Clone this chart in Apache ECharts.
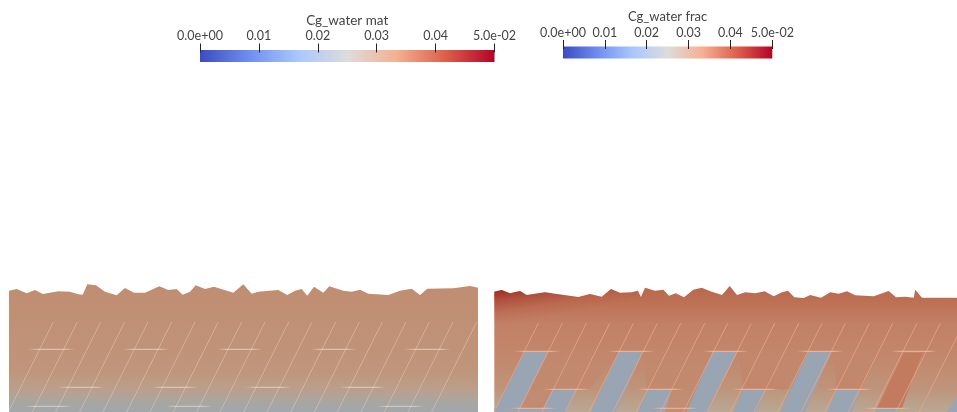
<!DOCTYPE html>
<html><head><meta charset="utf-8">
<style>html,body{margin:0;padding:0;background:#fff}#c{width:957px;height:412px}#c canvas{filter:blur(0.35px)}</style>
<script src="https://cdn.jsdelivr.net/npm/echarts@6/dist/echarts.min.js"></script></head>
<body><div id="c"></div>
<script>
// Colour scale
const tickValues = [0, 0.01, 0.02, 0.03, 0.04, 0.05];
const tickLabels = ['0.0e+00', '0.01', '0.02', '0.03', '0.04', '5.0e-02'];
const titleMat = 'Cg_water mat';
const titleFrac = 'Cg_water frac';
const coolWarm = ['#3b4cc0', '#6f8ef0', '#aac7fd', '#dddcdc', '#f5b092', '#dc5f4b', '#b40426'];

// Terrain top profiles
const surfaceMat = [[9,290.7],[16.7,289],[26.7,293.3],[35,290],[42.7,294],[58.3,291.3],[70,291.7],[78.3,294.3],[82.7,294.7],[87.3,284.3],[96,285.3],[105,291.7],[116.7,295.3],[125,288],[134,292.7],[145,292.7],[159.3,286.3],[168.3,290],[176.7,289],[182.7,294.7],[190,291.7],[195.7,285.3],[205,289],[214,286.7],[233.3,292.7],[243.3,284.3],[251.7,293.7],[258.3,291.7],[278.3,290],[287.3,295],[295,290.7],[301.7,289],[307.3,295.7],[314,286.7],[323.3,292.7],[329.3,286.3],[343.3,290.7],[351.7,291.7],[360,289.7],[368.3,293.7],[388.3,295],[400,290.7],[411.7,288.7],[420,295],[427.3,288.7],[453.3,288.3],[470,286],[478,287.7]];
const surfaceFrac = [[494.3,291.7],[501.7,290],[510,293.3],[520,291],[526.7,295],[545,292.3],[555,293.7],[578.3,297],[590,294],[601.7,296.7],[611,289],[620,292.7],[631.7,292.3],[637.7,290.7],[641,297],[645,287.7],[655,290.7],[663.3,289.7],[669,295.7],[675.7,293.3],[684,297.3],[693.3,289.7],[701.7,287.7],[711.7,291.7],[722,295],[729.7,286],[737,295],[745.3,292.3],[755.3,293.3],[764.7,291.3],[773.7,296.3],[782,292.3],[788,290.7],[794.3,297.3],[803.7,298],[810.3,295],[821,297.7],[830.3,292.3],[838.7,293.7],[847,291.3],[855.3,295.3],[873.7,296.3],[888.7,291],[896,297.3],[905.3,296.7],[913.7,297.7],[915.3,289.7],[922,297.7],[957,297.7]];

// Slanted fractures
const slantTopMat = [53.3,77.3,100.7,124.7,148,171.7,195,218.3,241.7,265,288.7,312,335.7,359.3,382.3,406,429.3,453,476.7];
const slantTopFrac = [538.3,562.3,586.3,609.7,633.3,657.3,680.7,704.7,727.7,751.3,774.7,798.7,822,845.3,869.3,892.7,917,940.3,963.7];
const slantRun = 46, slantDrop = 92;
const slantYMat = 322, slantYFrac = 323.3;

// Horizontal fractures: [y, x start, x end]
const horizMat = [[349.3,28,75],[349.3,123,169],[349.3,217,262.7],[349.3,310.7,356.7],[349.3,404,450.7],
  [387.3,57.7,104],[387.3,152,197.7],[387.3,245.7,291.7],[387.3,339.7,385.7],
  [406.3,25,71.7],[406.3,166,212],[406.3,377.3,424]];
const horizFrac = [[351.3,514,561],[351.3,608.3,655],[351.3,702.7,748.7],[351.3,797,843.7],[351.3,891,937.7],
  [389.3,542.7,590],[389.3,637.3,684],[389.3,732,778.7],[389.3,826.3,873],
  [408.3,510,556.7],[408.3,651.7,698],[408.3,863.7,911]];

// Low-concentration fracture-bounded blocks
const blueBlocks = [
  [[525,351.3],[549,351.3],[520.5,408.3],[494,408.3],[494,412],[494.6,412]],
  [[494,412],[494,408.3],[522,408.3],[545,408.3],[543,412]],
  [[552.7,389.3],[577.3,389.3],[566,412],[541.3,412]],
  [[619.3,351.3],[643.3,351.3],[616,412],[591,412]],
  [[646.7,389.3],[671.7,389.3],[665,412],[638,412]],
  [[712.7,351.3],[738,351.3],[707.5,412],[686.7,412]],
  [[743,389.3],[767,389.3],[756,412],[733,412]],
  [[808.7,351.3],[832,351.3],[805,412],[780,412]],
  [[837,389.3],[861,389.3],[852,412],[827,412]],
  [[876,408.3],[900,408.3],[899,412],[875,412]],
  [[957,398],[957,412],[947,412]]
];
const rustBlocks = [
  [[549,351.3],[619.3,351.3],[590,389.3],[552.7,389.3],[543,408.3],[520.5,408.3]],
  [[643.3,351.3],[712.7,351.3],[686.7,412],[665,412],[671.7,389.3],[646.7,389.3]],
  [[738,351.3],[808.7,351.3],[790,389.3],[743,389.3]],
  [[832,351.3],[880,351.3],[861,389.3],[837,389.3]]
];
const darkBlock = [[[904,353],[922,353],[902,408],[877,408]]];

const colorStops = coolWarm.map((c, i) => ({offset: i / (coolWarm.length - 1), color: c}));
const vGrad = stops => ({type:'linear',x:0,y:0,x2:0,y2:1,colorStops:stops.map(s=>({offset:s[0],color:s[1]}))});

function polyRender(list, fill, opacity) {
  return function (params, api) {
    const pts = list[api.value(2)].map(p => api.coord(p));
    return {type:'polygon', shape:{points:pts}, style:{fill, opacity: opacity==null?1:opacity, stroke:null}};
  };
}
function segRender(segs, color, alpha, fade) {
  return function (params, api) {
    const s = segs[api.value(2)];
    const a = api.coord([s[0], s[1]]), b = api.coord([s[2], s[3]]);
    const stroke = fade ? new echarts.graphic.LinearGradient(a[0],0,b[0],0,[
      {offset:0,color:'rgba('+color+',0)'},{offset:0.2,color:'rgba('+color+','+alpha+')'},
      {offset:0.8,color:'rgba('+color+','+alpha+')'},{offset:1,color:'rgba('+color+',0)'}],true)
      : 'rgba('+color+','+alpha+')';
    return {type:'line', shape:{x1:a[0],y1:a[1],x2:b[0],y2:b[1]}, style:{stroke, lineWidth:1}};
  };
}
const polySeries = (list, fill, ax, z, opacity) => ({type:'custom', xAxisIndex:ax, yAxisIndex:ax, z, clip:true, silent:true,
  renderItem: polyRender(list, fill, opacity), encode:{x:0,y:1},
  data:list.map((p,i)=>[p[0][0],p[0][1],i])});
const segSeries = (segs, color, alpha, fade, ax, z) => ({type:'custom', xAxisIndex:ax, yAxisIndex:ax, z, clip:true, silent:true,
  renderItem: segRender(segs, color, alpha, fade), encode:{x:0,y:1},
  data:segs.map((s,i)=>[s[0],s[1],i])});
const slants = (tops, y0) => tops.map(x => [x, y0, x - slantRun, y0 + slantDrop]);
const horiz = h => h.map(r => [r[1], r[0], r[2], r[0]]);

const barAxis = (grid, title, nameGap, nameSize) => ({
  gridIndex:grid, type:'value', position:'top', min:0, max:0.05, interval:0.01, offset:-2.5, z:10,
  name:title, nameLocation:'middle', nameGap, nameTextStyle:{color:'#444',fontFamily:'Lato',fontSize:nameSize},
  axisLine:{show:true,onZero:false,lineStyle:{color:'rgba(0,0,0,0)',width:1}}, splitLine:{show:false},
  axisTick:{show:true,length:9,inside:false,alignWithLabel:true,lineStyle:{color:'#222',width:1,opacity:1}},
  axisLabel:{margin:10,color:'#444',fontFamily:'Lato',fontSize:12.5,showMinLabel:true,showMaxLabel:true,hideOverlap:false,
    formatter:v=>tickLabels[tickValues.findIndex(t=>Math.abs(t-v)<1e-9)]}
});
const barY = g => ({gridIndex:g,type:'value',min:0,max:1,show:false});
const barSeries = ax => ({type:'custom',xAxisIndex:ax,yAxisIndex:ax,z:1,silent:true,encode:{x:0,y:1},data:[[0,0]],
  renderItem:(p,api)=>{const a=api.coord([tickValues[0],1]),b=api.coord([tickValues[5],0]);
    return {type:'rect',shape:{x:a[0],y:a[1],width:b[0]-a[0],height:b[1]-a[1]},
      style:{fill:{type:'linear',x:0,y:0,x2:1,y2:0,colorStops}}};}});
const fieldX = (g,min,max) => ({gridIndex:g,type:'value',min,max,show:false});
const fieldY = g => ({gridIndex:g,type:'value',min:270,max:412,inverse:true,show:false});
const surface = (data, ax, stops, z) => ({type:'line',xAxisIndex:ax,yAxisIndex:ax,z,silent:true,showSymbol:false,
  data,lineStyle:{width:0},areaStyle:{origin:'end',opacity:1,color:vGrad(stops)}});

const chart = echarts.init(document.getElementById('c'), null, {renderer:'canvas'});
chart.setOption({
  animation:false, backgroundColor:'#fff',
  grid:[
    {left:200,width:294.5,top:50,height:12},
    {left:563,width:209.3,top:46.5,height:12},
    {left:9,width:469,top:270,height:142},
    {left:494,width:463,top:270,height:142}
  ],
  xAxis:[barAxis(0,titleMat,25,13.5),barAxis(1,titleFrac,26,13),fieldX(2,9,478),fieldX(3,494,957)],
  yAxis:[barY(0),barY(1),fieldY(2),fieldY(3)],
  series:[
    barSeries(0),barSeries(1),
    surface(surfaceMat,2,[[0,'#c08d72'],[0.68,'#c0957b'],[0.82,'#bb9f8b'],[0.92,'#a8a6a0'],[1,'#9fa8ac']],2),
    surface(surfaceFrac,3,[[0,'#b9674c'],[0.12,'#bd7054'],[0.3,'#c28066'],[0.55,'#c2876c'],[0.8,'#bf9379'],[1,'#b8a895']],2),
    polySeries([surfaceFrac.slice(0,14).concat([[660,297],[494,326]])],
      {type:'linear',x:494,y:290,x2:500,y2:325,global:true,colorStops:[{offset:0,color:'rgba(150,20,20,0.75)'},{offset:0.3,color:'rgba(150,20,20,0.35)'},{offset:0.65,color:'rgba(150,20,20,0.09)'},{offset:1,color:'rgba(150,20,20,0)'}]},3,3),
    polySeries(rustBlocks,{type:'linear',x:0,y:0,x2:0,y2:1,colorStops:[{offset:0,color:'rgba(196,128,100,0)'},{offset:0.6,color:'rgba(196,128,100,0.45)'},{offset:1,color:'rgba(196,128,100,0.7)'}]},3,4),
    polySeries(darkBlock,'#c27b5f',3,4),
    polySeries(blueBlocks,'#9aa5b4',3,5),
    segSeries(slants(slantTopMat,slantYMat),'240,215,200',0.42,false,2,6),
    segSeries(horiz(horizMat),'255,235,220',0.6,true,2,6),
    segSeries(slants(slantTopFrac,slantYFrac),'240,165,135',0.75,false,3,6),
    segSeries(horiz(horizFrac),'248,185,155',0.95,true,3,6)
  ]
});
</script></body></html>
